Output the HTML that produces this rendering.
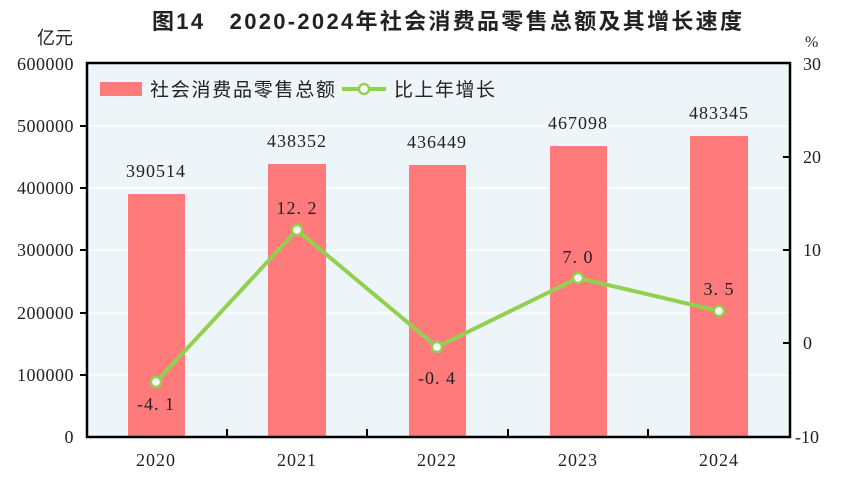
<!DOCTYPE html><html><head><meta charset="utf-8"><style>body{margin:0;background:#fff}</style></head><body>
<svg width="844" height="479" xmlns="http://www.w3.org/2000/svg">
<text x="447" y="29" text-anchor="middle" font-family="Liberation Sans,Noto Sans CJK SC,sans-serif" font-size="22" font-weight="bold" fill="#222" textLength="590" lengthAdjust="spacing">图14　2020-2024年社会消费品零售总额及其增长速度</text>
<rect x="87" y="63" width="703" height="374" fill="#edf5f9"/>
<g stroke="#fff" stroke-width="1.5">
<line x1="87" x2="790" y1="126" y2="126"/><line x1="87" x2="790" y1="188" y2="188"/><line x1="87" x2="790" y1="250" y2="250"/><line x1="87" x2="790" y1="313" y2="313"/><line x1="87" x2="790" y1="375" y2="375"/></g>
<g fill="#ff7b7b">
<rect x="128" y="194" width="57" height="243"/><rect x="268" y="164" width="58" height="273"/><rect x="409" y="165" width="57" height="272"/><rect x="550" y="146" width="57" height="291"/><rect x="690" y="136" width="58" height="301"/></g>
<rect x="87" y="63" width="703" height="374" fill="none" stroke="#000" stroke-width="2.5"/>
<g stroke="#000" stroke-width="2">
<line x1="80" x2="87" y1="126" y2="126"/><line x1="80" x2="87" y1="188" y2="188"/><line x1="80" x2="87" y1="250" y2="250"/><line x1="80" x2="87" y1="313" y2="313"/><line x1="80" x2="87" y1="375" y2="375"/>
<line x1="783" x2="790" y1="157" y2="157"/><line x1="783" x2="790" y1="250" y2="250"/><line x1="783" x2="790" y1="343" y2="343"/>
<line x1="227" x2="227" y1="429" y2="437"/><line x1="367" x2="367" y1="429" y2="437"/><line x1="508" x2="508" y1="429" y2="437"/><line x1="648" x2="648" y1="429" y2="437"/></g>
<g font-family="Liberation Serif,serif" font-size="18" fill="#222">
<g text-anchor="end" letter-spacing="0.5"><text x="74" y="70">600000</text><text x="74" y="132">500000</text><text x="74" y="194">400000</text><text x="74" y="256">300000</text><text x="74" y="319">200000</text><text x="74" y="381">100000</text><text x="74" y="443">0</text></g>
<g text-anchor="start"><text x="803" y="70">30</text><text x="803" y="163">20</text><text x="803" y="256">10</text><text x="803" y="349">0</text><text x="795" y="443">-10</text><text x="805" y="47" font-size="16">%</text></g>
<text x="73" y="44" text-anchor="end" font-family="Liberation Sans,Noto Sans CJK SC,sans-serif" font-size="18">亿元</text>
<g text-anchor="middle" letter-spacing="1"><text x="156" y="466">2020</text><text x="297" y="466">2021</text><text x="437" y="466">2022</text><text x="578" y="466">2023</text><text x="719" y="466">2024</text>
<text x="156" y="177">390514</text><text x="297" y="147">438352</text><text x="437" y="148">436449</text><text x="578" y="129">467098</text><text x="719" y="119">483345</text>
<text x="156" y="410">-4. 1</text><text x="297" y="214">12. 2</text><text x="437" y="384">-0. 4</text><text x="578" y="263">7. 0</text><text x="719" y="295">3. 5</text></g></g>
<polyline points="156,382 297,230 437,347 578,278 719,311" fill="none" stroke="#92d050" stroke-width="4"/>
<g fill="#fff" stroke="#92d050" stroke-width="2.5"><circle cx="156" cy="382" r="5"/><circle cx="297" cy="230" r="5"/><circle cx="437" cy="347" r="5"/><circle cx="578" cy="278" r="5"/><circle cx="719" cy="311" r="5"/></g>
<rect x="100" y="82" width="42" height="14" fill="#ff7b7b"/>
<text x="150" y="96" font-family="Liberation Sans,Noto Sans CJK SC,sans-serif" font-size="19" fill="#222" textLength="185" lengthAdjust="spacing">社会消费品零售总额</text>
<line x1="342" x2="386" y1="89" y2="89" stroke="#92d050" stroke-width="4"/><circle cx="364" cy="89" r="5" fill="#fff" stroke="#92d050" stroke-width="2.5"/>
<text x="394" y="96" font-family="Liberation Sans,Noto Sans CJK SC,sans-serif" font-size="19" fill="#222" textLength="101" lengthAdjust="spacing">比上年增长</text>
</svg></body></html>
